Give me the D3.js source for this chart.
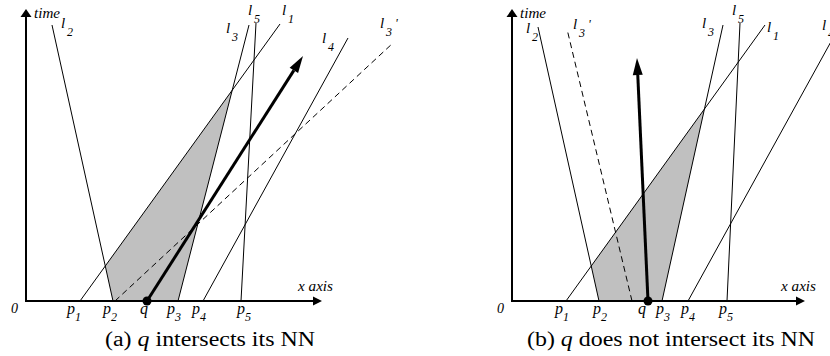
<!DOCTYPE html>
<html><head><meta charset="utf-8">
<script src="https://cdn.jsdelivr.net/npm/d3@7"></script>
<style>body{margin:0;background:#fff} svg{display:block} text{font-family:"Liberation Serif","Times New Roman",Times,serif}</style>
</head><body>
<svg id="c" width="830" height="356"></svg>
<script>
// ---------- data (x = position along x axis, t = time) ----------
const pointNames = ["p1", "p2", "q", "p3", "p4", "p5"];
const pointsA = [54, 87, 121, 152, 177, 215];
const pointsB = [54, 87, 136, 150, 176, 215];

const lineNames = ["l1", "l2", "l3", "l4", "l5", "l3'"];
const lineDashed = [false, false, false, false, false, true];
// each line: x at t=0, and its top end (x, t)
const linesA_x0 = [54, 87, 152, 177, 215, 89];
const linesA_x1 = [254, 26, 223, 322, 230, 367];
const linesA_t1 = [277, 276, 276, 263, 278, 258];
const linesB_x0 = [54, 87, 150, 176, 215, 120];
const linesB_x1 = [253, 26, 211, 321, 228, 55];
const linesB_t1 = [276, 274, 276, 263, 278, 272];

// query trajectory: x0 at t=0, end (x1, t1)
const queryA = [121, 277, 245];
const queryB = [136, 125, 243];

// axis extents
const xAxisMax = [296, 293];
const tAxisMax = 292;

const captions = [["(a) ", "q", " intersects its NN"], ["(b) ", "q", " does not intersect its NN"]];

// ---------- layout ----------
const svg = d3.select("#c");
const panels = [
  {ox: 26, points: pointsA, x0: linesA_x0, x1: linesA_x1, t1: linesA_t1, q: queryA,
   ptDx: [-13, -10, -7, -11, -11, -4],
   lab: {"l1": [2, -9], "l2": [9, 3], "l3": [-23, 8], "l4": [-26, 5], "l5": [-8, -8], "l3'": [-13, -15]},
   capX: 105, capW: 210, timeX: 34},
  {ox: 512, points: pointsB, x0: linesB_x0, x1: linesB_x1, t1: linesB_t1, q: queryB,
   ptDx: [-11, -6, -10, -6, -7, -8],
   lab: {"l1": [2, 7], "l2": [-12, 6], "l3": [-21, 3], "l4": [-11, -8], "l5": [-8, -8], "l3'": [6, 0]},
   capX: 527, capW: 288, timeX: 520}
];

function arrowHead(g, x1, y1, x2, y2, len, w) {
  const dx = x2 - x1, dy = y2 - y1, L = Math.hypot(dx, dy);
  const ux = dx / L, uy = dy / L, nx = -uy, ny = ux;
  const bx = x2 - ux * len, by = y2 - uy * len;
  g.append("path")
    .attr("d", `M${x2},${y2}L${bx + nx * w / 2},${by + ny * w / 2}L${bx - nx * w / 2},${by - ny * w / 2}Z`)
    .attr("fill", "#000");
  return [bx, by];
}

function intersect(a, b) {
  const [[x1, y1], [x2, y2]] = a, [[x3, y3], [x4, y4]] = b;
  const d = (x1 - x2) * (y3 - y4) - (y1 - y2) * (x3 - x4);
  const t = ((x1 - x3) * (y3 - y4) - (y1 - y3) * (x3 - x4)) / d;
  return [x1 + t * (x2 - x1), y1 + t * (y2 - y1)];
}

panels.forEach((P, pi) => {
  const x = d3.scaleLinear().domain([0, 300]).range([P.ox, P.ox + 300]);
  const y = d3.scaleLinear().domain([0, 300]).range([301, 1]);
  const g = svg.append("g");

  const seg = i => [[x(P.x0[i]), y(0)], [x(P.x1[i]), y(P.t1[i])]];
  const L = name => seg(lineNames.indexOf(name));

  // shaded region bounded by l2, l1, l3 and the x axis
  const a = L("l2")[0], b = intersect(L("l1"), L("l2")), c = intersect(L("l1"), L("l3")), d = L("l3")[0];
  g.append("path").attr("d", d3.line()([a, b, c, d]) + "Z").attr("fill", "#c0c0c0");

  // lines
  lineNames.forEach((n, i) => {
    const s = seg(i);
    g.append("line").attr("x1", s[0][0]).attr("y1", s[0][1]).attr("x2", s[1][0]).attr("y2", s[1][1])
      .attr("stroke", "#000").attr("stroke-width", 1)
      .attr("stroke-dasharray", lineDashed[i] ? "6,4" : null);
    const off = P.lab[n];
    const tx = s[1][0] + off[0], ty = s[1][1] + off[1];
    const t = g.append("text").attr("font-style", "italic");
    t.append("tspan").attr("x", tx).attr("y", ty).attr("font-size", 15).text("l");
    t.append("tspan").attr("x", tx + 6).attr("y", ty + 8).attr("font-size", 12).text(n.charAt(1));
    if (n.length > 2) t.append("tspan").attr("x", tx + 15).attr("y", ty - 1).attr("font-size", 13).text("'");
  });

  // axes
  const ax0 = x(0), ay0 = y(0);
  arrowHead(g, ax0, ay0, x(xAxisMax[pi]), ay0, 9, 9);
  g.append("line").attr("x1", ax0).attr("y1", ay0).attr("x2", x(xAxisMax[pi]) - 8).attr("y2", ay0)
    .attr("stroke", "#000").attr("stroke-width", 2);
  arrowHead(g, ax0, ay0, ax0, y(tAxisMax), 8, 11);
  g.append("line").attr("x1", ax0).attr("y1", ay0 + 1).attr("x2", ax0).attr("y2", y(tAxisMax) + 7)
    .attr("stroke", "#000").attr("stroke-width", 2);

  // query trajectory
  const q = P.q;
  const qs = [x(q[0]), y(0)], qe = [x(q[1]), y(q[2])];
  const base = arrowHead(g, qs[0], qs[1], qe[0], qe[1], 17, 10);
  g.append("line").attr("x1", qs[0]).attr("y1", qs[1]).attr("x2", base[0]).attr("y2", base[1])
    .attr("stroke", "#000").attr("stroke-width", 3);
  g.append("circle").attr("cx", qs[0]).attr("cy", qs[1]).attr("r", 4.5).attr("fill", "#000");

  // point labels
  P.points.forEach((v, i) => {
    const nm = pointNames[i];
    const tx = x(v) + P.ptDx[i];
    const t = g.append("text").attr("font-style", "italic");
    t.append("tspan").attr("x", tx).attr("y", 314).attr("font-size", 16).text(nm.charAt(0));
    if (nm.length > 1) t.append("tspan").attr("x", tx + 8).attr("y", 321).attr("font-size", 12).text(nm.charAt(1));
  });

  // axis texts
  g.append("text").attr("x", ax0 - 15).attr("y", 313).attr("font-style", "italic")
    .attr("font-size", 14).text("0");
  g.append("text").attr("x", P.timeX).attr("y", 18).attr("font-style", "italic")
    .attr("font-size", 14).attr("textLength", 26).attr("lengthAdjust", "spacingAndGlyphs").text("time");
  g.append("text").attr("x", x(xAxisMax[pi]) - 24).attr("y", 291).attr("font-style", "italic")
    .attr("font-size", 15).attr("textLength", 35).attr("lengthAdjust", "spacingAndGlyphs").text("x axis");

  // caption
  const cap = g.append("text").attr("x", P.capX).attr("y", 346)
    .attr("font-size", 20).attr("textLength", P.capW).attr("lengthAdjust", "spacingAndGlyphs");
  captions[pi].forEach((s, k) => cap.append("tspan").attr("font-style", k === 1 ? "italic" : "normal").text(s));
});
</script>
</body></html>
